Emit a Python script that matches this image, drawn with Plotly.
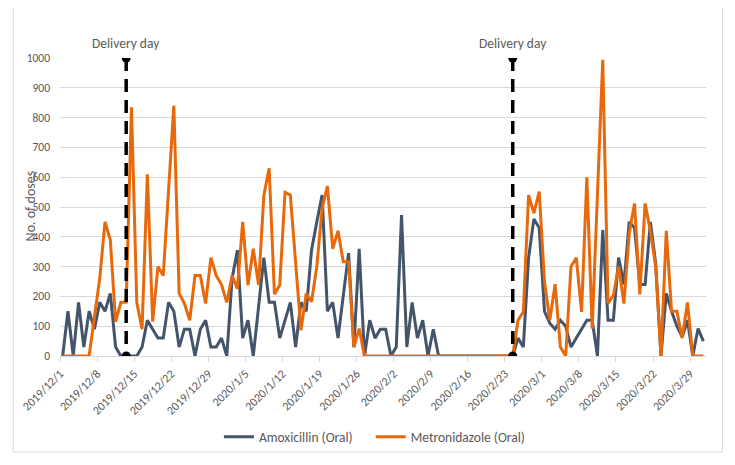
import pandas as pd
import plotly.graph_objects as go

# ---- data -------------------------------------------------------------
start_date = "2019-12-01"
end_date = "2020-03-31"

amoxicillin = [
    0, 150, 0, 180, 30, 150, 90, 180, 150, 210,
    30, 0, 0, 0, 0, 30, 120, 90, 60, 60,
    180, 150, 30, 90, 90, 0, 90, 120, 30, 30,
    60, 0, 260, 355, 60, 120, 0, 165, 330, 180,
    180, 60, 120, 180, 30, 180, 150, 355, 450, 540,
    150, 180, 60, 200, 345, 30, 360, 0, 120, 60,
    90, 90, 0, 30, 473, 30, 180, 60, 120, 0,
    90, 0, 0, 0, 0, 0, 0, 0, 0, 0,
    0, 0, 0, 0, 0, 0, 60, 30, 330, 460,
    430, 150, 110, 90, 120, 100, 30, 60, 90, 120,
    120, 0, 423, 120, 120, 330, 240, 450, 430, 240,
    240, 450, 310, 0, 210, 150, 100, 64, 120, 0,
    92, 50,
]

metronidazole = [
    0, 0, 0, 0, 0, 0, 130, 260, 450, 390,
    115, 180, 180, 835, 180, 90, 610, 115, 300, 270,
    555, 840, 210, 176, 120, 270, 270, 176, 330, 270,
    240, 180, 270, 226, 450, 238, 360, 238, 540, 630,
    207, 238, 549, 540, 313, 86, 210, 182, 300, 495,
    570, 360, 420, 316, 316, 30, 92, 0, 0, 0,
    0, 0, 0, 0, 0, 0, 0, 0, 0, 0,
    0, 0, 0, 0, 0, 0, 0, 0, 0, 0,
    0, 0, 0, 0, 0, 0, 120, 148, 540, 479,
    552, 250, 120, 241, 30, 0, 300, 330, 148, 600,
    92, 540, 994, 176, 204, 300, 176, 411, 512, 207,
    512, 420, 300, 0, 420, 150, 150, 60, 180, 0,
    0, 0,
]

delivery_days = ["2019-12-13", "2020-02-24"]
delivery_label = "Delivery day"

tick_labels = [
    "2019/12/1", "2019/12/8", "2019/12/15", "2019/12/22", "2019/12/29",
    "2020/1/5", "2020/1/12", "2020/1/19", "2020/1/26", "2020/2/2",
    "2020/2/9", "2020/2/16", "2020/2/23", "2020/3/1", "2020/3/8",
    "2020/3/15", "2020/3/22", "2020/3/29",
]

y_ticks = list(range(0, 1001, 100))

# ---- figure -----------------------------------------------------------
dates = pd.date_range(start_date, end_date, freq="D")
half_day = pd.Timedelta(hours=12)
tick_vals = pd.to_datetime(tick_labels, format="%Y/%m/%d") - half_day

FONT = "Carlito, Lato, sans-serif"
GREY = "#595959"
GRID = "#D9D9D9"

fig = go.Figure()
fig.add_trace(go.Scatter(
    x=dates, y=amoxicillin, mode="lines", name="Amoxicillin (Oral)",
    line=dict(color="#44546A", width=3), legend="legend",
))
fig.add_trace(go.Scatter(
    x=dates, y=metronidazole, mode="lines", name="Metronidazole (Oral)",
    line=dict(color="#E8690B", width=3), legend="legend2",
))

for d in delivery_days:
    fig.add_trace(go.Scatter(
        x=[d, d], y=[y_ticks[-1], y_ticks[0]], mode="lines+markers",
        showlegend=False, hoverinfo="skip",
        line=dict(color="black", width=3.5, dash="13px,8px"),
        marker=dict(color="black", size=9),
    ))
    fig.add_annotation(
        x=d, xref="x", y=1.047, yref="paper", text=delivery_label,
        showarrow=False, font=dict(family=FONT, size=13.5, color=GREY),
        xanchor="center", yanchor="middle",
    )

fig.add_annotation(
    x=-0.046, xref="paper", y=0.503, yref="paper", text="No. of doses",
    textangle=-90, showarrow=False,
    font=dict(family=FONT, size=14, color=GREY),
    xanchor="center", yanchor="middle",
)

# outer chart border
fig.add_shape(
    type="rect", xref="paper", yref="paper",
    x0=-0.0724, x1=1.0254, y0=-0.322, y1=1.188,
    line=dict(color=GRID, width=1), fillcolor="rgba(0,0,0,0)", layer="below",
)

legend_style = dict(
    orientation="h", xanchor="left", y=-0.272, yanchor="middle",
    font=dict(family=FONT, size=13.5, color=GREY),
    bgcolor="rgba(0,0,0,0)",
)

# the page body adds an 8px offset, so the figure is sized to fit after it
fig.update_layout(
    width=727, height=457,
    margin=dict(l=49, r=29, t=50, b=109),
    paper_bgcolor="white", plot_bgcolor="white",
    font=dict(family=FONT, size=11, color=GREY),
    showlegend=True,
    legend=dict(x=0.246, **legend_style),
    legend2=dict(x=0.481, **legend_style),
    xaxis=dict(
        range=[dates[0] - half_day, dates[-1] + half_day],
        tickmode="array", tickvals=tick_vals, ticktext=tick_labels,
        tickangle=-45, showgrid=False, zeroline=False,
        showline=True, linecolor=GRID, linewidth=1,
        ticks="outside", ticklen=5, tickcolor=GRID,
        tickfont=dict(family=FONT, size=12, color=GREY),
    ),
    yaxis=dict(
        range=[0, 1000], tickmode="array", tickvals=y_ticks,
        showgrid=True, gridcolor=GRID, gridwidth=1, zeroline=False,
        showline=False, ticks="", ticklabelstandoff=9,
        tickfont=dict(family=FONT, size=11.5, color=GREY),
    ),
)

fig.write_html("out.html")
